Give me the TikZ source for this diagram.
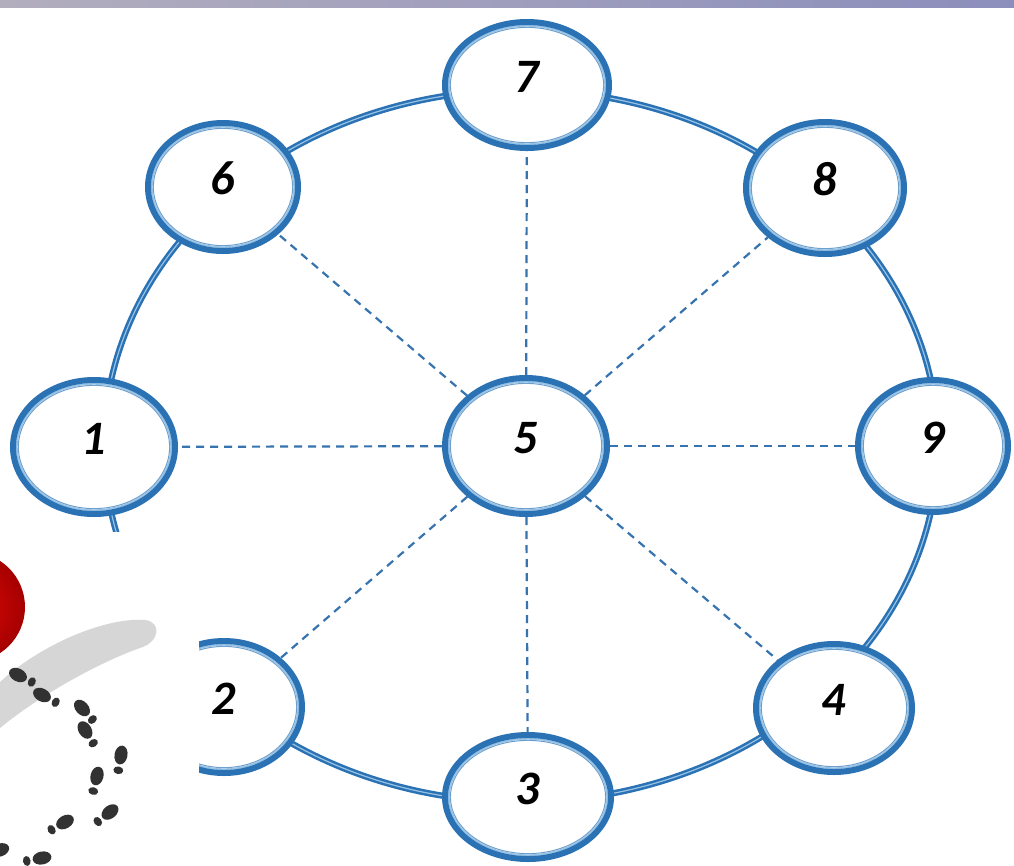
\documentclass[tikz,border=0pt]{standalone}
\usepackage{fontspec}
\setmainfont{Carlito}
\usetikzlibrary{shapes.geometric,backgrounds}

\definecolor{ringblue}{RGB}{42,114,180}
\definecolor{ringlight}{RGB}{150,195,230}
\definecolor{innerblue}{RGB}{110,160,205}
\definecolor{spokeblue}{RGB}{55,115,175}
\definecolor{bandleft}{RGB}{178,174,190}
\definecolor{bandright}{RGB}{140,142,188}
\definecolor{markgray}{RGB}{214,214,214}
\definecolor{footgray}{RGB}{50,50,50}
\definecolor{ballred}{RGB}{222,8,8}
\definecolor{balldark}{RGB}{165,0,0}

\tikzset{
  numnode/.style 2 args={
    ellipse, draw=ringblue, line width=6pt, fill=white, inner sep=0pt,
    minimum width=#1, minimum height=#2,
    text height=30pt, text depth=16pt,
    font=\fontsize{48}{48}\selectfont\bfseries\itshape,
    path picture={
      \draw[ringlight, line width=1.8pt] (path picture bounding box.center)
        ellipse [x radius=#1/2-3.8pt, y radius=#2/2-3.8pt];
      \draw[innerblue, line width=1pt] (path picture bounding box.center)
        ellipse [x radius=#1/2-5.4pt, y radius=#2/2-5.4pt];
    }},
  ringline/.style={draw=ringblue, line width=2.5pt, double=ringlight, double distance=1.2pt},
  spoke/.style={spokeblue, line width=2.2pt, dash pattern=on 8pt off 6pt},
  foot/.pic={
    \fill[footgray] (0,0) ellipse [x radius=9.5, y radius=6.5];
    \fill[footgray] (-15.5,0) ellipse [x radius=3.8, y radius=5];
  }
}

\begin{document}
\begin{tikzpicture}[x=1pt, y=-1pt]
  \useasboundingbox (0,0) rectangle (1014,865);

  % numbered stations
  \node[numnode={162pt}{134pt}] (n1) at (94,447) {1};
  \node[numnode={156pt}{132pt}] (n2) at (224,707) {2};
  \node[numnode={166pt}{124pt}] (n3) at (528,797) {3};
  \node[numnode={156pt}{128pt}] (n4) at (834,708) {4};
  \node[numnode={162pt}{136pt}] (n5) at (526,446) {5};
  \node[numnode={150pt}{128pt}] (n6) at (223,187) {6};
  \node[numnode={164pt}{126pt}] (n7) at (527,85) {7};
  \node[numnode={158pt}{132pt}] (n8) at (825,188) {8};
  \node[numnode={150pt}{132pt}] (n9) at (933,446) {9};

  \begin{pgfonlayer}{background}
    \fill[white] (0,0) rectangle (1014,865);
    \shade[left color=bandleft, right color=bandright] (0,0) rectangle (1014,7);
    % outer ring joining the stations
    \coordinate (ringc) at (521,446);
    \draw[ringline] (ringc) ellipse [x radius=417, y radius=356];
    % dashed spokes from the hub
    \foreach \t in {n1,n2,n3,n4,n6,n7,n8,n9}
      \draw[spoke] (n5) -- (\t);
  \end{pgfonlayer}

  % inset picture: ball, question-mark curl and footprints
  \fill[white] (0,532) rectangle (199,865);
  \begin{scope}
    \clip (0,532) rectangle (199,865);
    \shade[inner color=ballred, outer color=balldark] (-30,607) circle [radius=55];
    \fill[markgray] (0,682) .. controls (40,645) and (105,617) .. (145,620)
      .. controls (162,622) and (160,642) .. (140,648)
      .. controls (100,662) and (40,695) .. (0,728) -- cycle;
    \pic[rotate=153] at (18,675) {foot};
    \pic[rotate=152] at (42,695) {foot};
    \pic[rotate=132] at (82,708) {foot};
    \pic[rotate=122] at (85,730) {foot};
    \pic[rotate=80]  at (121,755) {foot};
    \pic[rotate=76]  at (97,776) {foot};
    \pic[rotate=38]  at (110,812) {foot};
    \pic[rotate=30]  at (65,822) {foot};
    \pic[rotate=11]  at (42,858) {foot};
    \pic[rotate=20]  at (0,850) {foot};
  \end{scope}
\end{tikzpicture}
\end{document}
